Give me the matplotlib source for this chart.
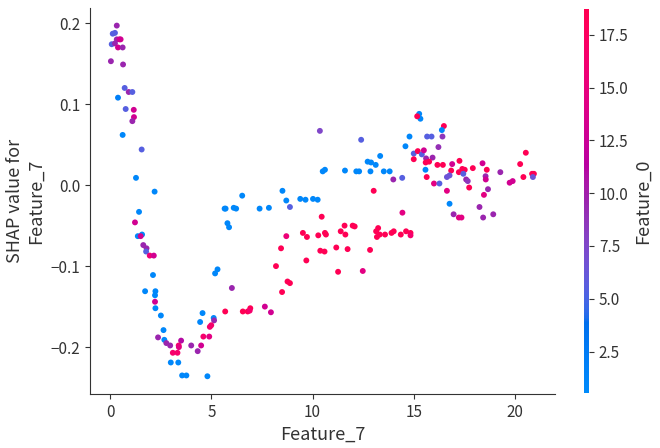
import numpy as np
import matplotlib
matplotlib.use("Agg")
import matplotlib.pyplot as plt
from matplotlib.colors import LinearSegmentedColormap

plt.rcParams['font.family'] = ['Noto Sans CJK SC', 'DejaVu Sans']
plt.rcParams['axes.unicode_minus'] = True

# Feature_7 values (x)
feature_7 = [
    0.32, 0.12, 0.23, 0.32, 0.51, 0.45, 0.07, 0.23, 0.38, 0.61, 0.03, 0.63, 0.71, 0.91, 1.09,
    0.38, 0.76, 1.16, 1.17, 1.09, 0.61, 1.55, 1.27, 2.19, 6.52, 1.42, 1.22, 1.57, 1.36, 1.50,
    1.63, 1.79, 1.77, 1.95, 2.15, 2.11, 1.72, 2.23, 2.21, 2.21, 2.23, 2.50, 2.63, 2.36, 2.67,
    2.77, 2.96, 3.50, 3.38, 3.39, 4.00, 4.49, 4.32, 3.09, 3.32, 2.99, 3.36, 3.55, 3.76, 4.80,
    4.56, 4.44, 5.11, 5.13, 4.99, 4.92, 4.60, 4.89, 5.30, 5.18, 6.01, 5.68, 6.55, 6.79, 6.92,
    6.89, 7.64, 7.94,
    5.65, 5.70, 6.10, 6.22, 5.79, 5.87, 7.38, 7.84, 8.51, 8.70, 8.88, 9.39, 9.65, 10.02, 10.25,
    10.50, 10.61, 11.60, 12.16, 12.30, 12.86, 12.72, 12.89, 13.12, 13.34, 13.52, 13.81, 10.36, 12.40,
    8.19, 8.49, 8.76, 8.88, 8.44, 8.70, 9.52, 9.72, 9.69, 10.28, 10.38, 10.59, 10.45, 10.61, 10.66,
    11.17, 11.26, 11.39, 11.58, 11.62, 11.73, 11.98, 12.08, 12.48, 12.84, 13.14, 13.24, 13.18, 13.02,
    13.32, 13.58, 13.90, 14.01, 14.36, 14.62, 14.84, 14.84, 14.44,
    15.27, 15.33, 15.17, 16.49, 16.39, 14.79, 15.66, 15.88, 16.42, 14.59, 16.22, 15.00, 15.20, 15.40,
    15.50, 15.00, 15.61, 15.93, 15.59, 15.76, 16.17, 16.44, 16.90, 17.26, 16.85, 17.23, 17.40, 17.52,
    17.45, 17.92, 18.40, 18.61, 19.28, 20.54, 20.26, 20.42, 20.85, 20.94, 20.89, 19.74, 19.89, 15.58,
    13.99, 14.43, 15.64, 16.00, 16.27, 16.64, 16.77, 17.59, 17.67, 17.74, 18.55, 18.56, 18.67, 18.47,
    16.64, 16.77, 18.25, 16.97, 17.23, 17.36, 18.43, 18.93,
]

# SHAP values for Feature_7 (y)
shap_values = [
    0.197, 0.187, 0.188, 0.180, 0.180, 0.180, 0.174, 0.175, 0.170, 0.170, 0.153, 0.149, 0.120, 0.115, 0.115,
    0.108, 0.094, 0.093, 0.084, 0.079, 0.062, 0.044, 0.009, -0.008, -0.013, -0.033, -0.046, -0.061, -0.063, -0.063,
    -0.074, -0.078, -0.082, -0.087, -0.087, -0.111, -0.131, -0.131, -0.136, -0.144, -0.152, -0.161, -0.179, -0.188, -0.191,
    -0.195, -0.198, -0.192, -0.198, -0.200, -0.198, -0.198, -0.205, -0.207, -0.207, -0.219, -0.219, -0.235, -0.235, -0.236,
    -0.158, -0.169, -0.164, -0.167, -0.173, -0.175, -0.187, -0.187, -0.104, -0.109, -0.127, -0.156, -0.156, -0.156, -0.152,
    -0.155, -0.150, -0.157,
    -0.029, -0.029, -0.028, -0.029, -0.047, -0.052, -0.029, -0.028, -0.007, -0.019, -0.027, -0.017, -0.018, -0.017, -0.018,
    0.017, 0.019, 0.018, 0.017, 0.017, 0.017, 0.029, 0.028, 0.025, 0.036, 0.017, 0.017, 0.067, 0.056,
    -0.100, -0.132, -0.119, -0.121, -0.078, -0.063, -0.059, -0.064, -0.093, -0.062, -0.081, -0.082, -0.039, -0.059, -0.061,
    -0.077, -0.107, -0.057, -0.050, -0.061, -0.079, -0.050, -0.051, -0.106, -0.080, -0.057, -0.053, -0.064, -0.007,
    -0.061, -0.061, -0.059, -0.057, -0.061, -0.057, -0.059, -0.062, -0.034,
    0.088, 0.082, 0.085, 0.073, 0.068, 0.060, 0.060, 0.060, 0.060, 0.048, 0.047, 0.039, 0.042, 0.038,
    0.043, 0.032, 0.033, 0.034, 0.028, 0.029, 0.025, 0.025, 0.026, 0.030, 0.018, 0.016, 0.020, 0.019,
    0.014, 0.021, 0.027, 0.019, 0.016, 0.040, 0.026, 0.010, 0.014, 0.014, 0.010, 0.003, 0.005, 0.019,
    0.007, 0.009, 0.010, 0.002, 0.002, 0.010, 0.012, 0.007, 0.005, -0.003, 0.011, 0.007, -0.005, -0.012,
    -0.007, -0.023, -0.027, -0.036, -0.040, -0.040, -0.040, -0.036,
]

# Feature_0 values (colour)
feature_0 = [
    9.5, 5.5, 5.5, 9.5, 13, 13, 5.5, 9.5, 13, 9.5, 9.5, 9.5, 5.5, 9.5, 5.5,
    2.0, 5.5, 13, 13, 9.5, 1.0, 5.5, 1.0, 1.0, 1.0, 1.0, 13, 1.0, 1.0, 13,
    9.5, 9.5, 5.5, 15.5, 13, 1.0, 1.0, 1.0, 1.0, 13, 1.0, 1.0, 1.0, 9.5, 1.0,
    9.5, 9.5, 11, 16.5, 14.5, 9.5, 13, 9.5, 16.5, 16.5, 1.0, 1.0, 1.0, 1.0, 1.0,
    1.0, 1.0, 1.0, 9.5, 16.5, 16.5, 16.5, 14.5, 1.0, 1.0, 9.5, 18.5, 18.5, 18.5, 18.5,
    16.5, 13, 13,
    1.0, 1.0, 1.0, 1.0, 1.0, 1.0, 1.0, 1.0, 1.0, 1.0, 5.5, 1.0, 1.0, 1.0, 1.0,
    1.0, 1.0, 1.0, 1.0, 1.0, 1.0, 1.0, 1.0, 1.0, 1.0, 1.0, 1.0, 7.5, 5.5,
    18.5, 18.5, 18.5, 18.5, 18.5, 15.5, 18.5, 18.5, 18.5, 18.5, 18.5, 18.5, 18.5, 18.5, 18.5,
    18.5, 18.5, 18.5, 18.5, 18.5, 18.5, 18.5, 18.5, 14.5, 18.5, 18.5, 18.5, 18.5, 18.5,
    18.5, 18.5, 18.5, 18.5, 18.5, 18.5, 18.5, 16.5, 14.5,
    1.0, 1.0, 18.5, 18.5, 1.0, 1.0, 5.5, 5.5, 8.5, 1.0, 9, 5.5, 18.5, 5.5,
    13, 18.5, 9.5, 9.5, 18.5, 18.5, 18.5, 18.5, 13, 18.5, 18.5, 18.5, 18.5, 18.5,
    5.5, 18.5, 13, 18.5, 9.5, 18.5, 18.5, 18.5, 18.5, 18.5, 6.5, 13, 13, 1.0,
    9.5, 5.5, 18.5, 14.5, 5.5, 6.5, 6.5, 9.5, 8.5, 18.5, 9.5, 13, 9.5, 14.5,
    14.5, 1.0, 9.5, 9.5, 14.5, 14.5, 9.5, 9.5,
]


def lch_to_rgb(l, c, h):
    a = c * np.cos(h)
    b = c * np.sin(h)
    fy = (l + 16) / 116
    fx = fy + a / 500
    fz = fy - b / 200

    def finv(t):
        return np.where(t > 6 / 29, t ** 3, 3 * (6 / 29) ** 2 * (t - 4 / 29))
    xyz = np.array([0.95047 * finv(fx), 1.0 * finv(fy), 1.08883 * finv(fz)])
    m = np.array([[3.2406, -1.5372, -0.4986],
                  [-0.9689, 1.8758, 0.0415],
                  [0.0557, -0.2040, 1.0570]])
    rgb = m @ xyz
    rgb = np.where(rgb > 0.0031308, 1.055 * np.clip(rgb, 0, None) ** (1 / 2.4) - 0.055, 12.92 * rgb)
    return np.clip(rgb, 0, 1)


# shap-like red_blue colormap
blue_lch = [54., 70., 4.6588]
red_lch = [54., 90., 0.35470565 + 2 * np.pi]
l_mid = 40.
n = 100
ls = list(np.linspace(blue_lch[0], l_mid, n // 2)) + list(np.linspace(l_mid, red_lch[0], n // 2))
cs = np.linspace(blue_lch[1], red_lch[1], n)
hs = np.linspace(blue_lch[2], red_lch[2], n)
cols = [lch_to_rgb(l, c, h) for l, c, h in zip(ls, cs, hs)]
red_blue = LinearSegmentedColormap.from_list('red_blue', cols)

axis_color = "#333333"
fig = plt.figure(figsize=(6.6, 4.48), dpi=100)
ax = fig.add_axes([0.136, 0.121, 0.705, 0.861])
cax = fig.add_axes([0.885, 0.123, 0.0076, 0.857])

sc = ax.scatter(feature_7, shap_values, c=feature_0, s=18, linewidth=0,
                cmap=red_blue, vmin=0.54, vmax=18.72)

ax.set_xlabel("Feature_7", fontsize=13, color=axis_color)
ax.set_ylabel("SHAP value for\nFeature_7", fontsize=13, color=axis_color)
ax.set_xticks([0, 5, 10, 15, 20])
ax.set_yticks([-0.2, -0.1, 0.0, 0.1, 0.2])
ax.tick_params(labelsize=11, color=axis_color, labelcolor=axis_color)
ax.spines['top'].set_visible(False)
ax.spines['right'].set_visible(False)
ax.spines['left'].set_color(axis_color)
ax.spines['bottom'].set_color(axis_color)

cb = fig.colorbar(sc, cax=cax)
cb.outline.set_visible(False)
cb.set_ticks([2.5, 5.0, 7.5, 10.0, 12.5, 15.0, 17.5])
cb.ax.tick_params(labelsize=11, color=axis_color, labelcolor=axis_color)
cb.set_label("Feature_0", size=13, color=axis_color)

fig.savefig("out.png", dpi=100)
